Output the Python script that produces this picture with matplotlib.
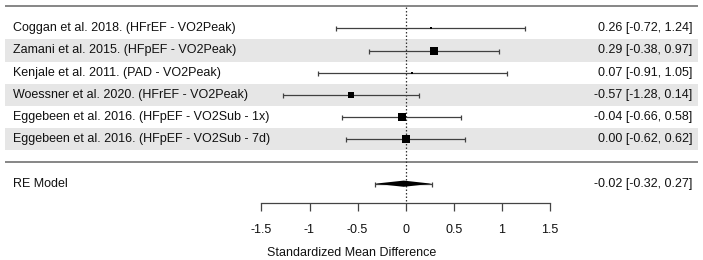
import matplotlib
matplotlib.use("Agg")
import matplotlib.pyplot as plt
from matplotlib.patches import Polygon

plt.rcParams['font.family'] = ['Liberation Sans', 'DejaVu Sans']

studies = [
    "Coggan et al. 2018. (HFrEF - VO2Peak)",
    "Zamani et al. 2015. (HFpEF - VO2Peak)",
    "Kenjale et al. 2011. (PAD - VO2Peak)",
    "Woessner et al. 2020. (HFrEF - VO2Peak)",
    "Eggebeen et al. 2016. (HFpEF - VO2Sub - 1x)",
    "Eggebeen et al. 2016. (HFpEF - VO2Sub - 7d)",
]
est = [0.26, 0.29, 0.07, -0.57, -0.04, 0.00]
lo = [-0.72, -0.38, -0.91, -1.28, -0.66, -0.62]
hi = [1.24, 0.97, 1.05, 0.14, 0.58, 0.62]
weights = [9.1, 19.2, 9.1, 17.3, 22.7, 22.7]

re_label = "RE Model"
re_est = -0.02
re_lo = -0.32
re_hi = 0.27

xticks = [-1.5, -1, -0.5, 0, 0.5, 1, 1.5]
xticklabels = ["-1.5", "-1", "-0.5", "0", "0.5", "1", "1.5"]
xlabel = "Standardized Mean Difference"

FS = 9
W, H = 703, 260
fig = plt.figure(figsize=(W / 100, H / 100), dpi=100)
axis_px = 203.3
ax = fig.add_axes([0, 1 - axis_px / H, 1, axis_px / H])

x0px, upx = 405.7, 96.2
row1px, rowh = 28.3, 22.2
def px2x(p):
    return (p - x0px) / upx
def px2r(p):
    return (p - row1px) / rowh + 1

ax.set_xlim(px2x(0), px2x(W))
ax.set_ylim(px2r(axis_px), px2r(0))

txt = "#111111"
left_x = px2x(5)
right_x = px2x(698)

n = len(studies)
rows = list(range(1, n + 1))

# shading
for i, r in enumerate(rows):
    if i % 2 == 1:
        ax.axhspan(r - 0.5, r + 0.5, xmin=5 / W, xmax=698 / W, color="#e6e6e6", lw=0, zorder=0)

# horizontal rules
ax.hlines([0, n + 1], left_x, right_x, color="#666666", lw=1.1, zorder=1)

# reference line
ax.vlines(0, 0.04, px2r(axis_px), colors="#333333", linestyles=(0, (1.2, 1.6)), lw=0.9, zorder=2)

# CIs
for r, e, l, h in zip(rows, est, lo, hi):
    ax.errorbar(e, r, xerr=[[e - l], [h - e]], fmt="none", ecolor="#404040",
                elinewidth=0.9, capsize=1.8, capthick=0.9, zorder=3)

# squares
wmin, wmax = min(weights), max(weights)
for r, e, w in zip(rows, est, weights):
    spx = 2.7 + (w - wmin) / (wmax - wmin) * 6.0
    spt = spx * 0.72
    ax.scatter([e], [r], marker="s", s=spt ** 2, color="black", lw=0, zorder=4)

# labels
for r, s, e, l, h in zip(rows, studies, est, lo, hi):
    ax.text(px2x(12.5), r, s, ha="left", va="center", fontsize=FS, color=txt)
    ax.text(px2x(692), r, f"{e:.2f} [{l:.2f}, {h:.2f}]", ha="right", va="center", fontsize=FS, color=txt)

# RE model
rr = n + 2
ax.errorbar(re_est, rr, xerr=[[re_est - re_lo], [re_hi - re_est]], fmt="none", ecolor="#404040",
            elinewidth=0.9, capsize=1.8, capthick=0.9, zorder=3)
dh = 0.14
ax.add_patch(Polygon([[re_lo, rr], [re_est, rr - dh], [re_hi, rr], [re_est, rr + dh]],
                     closed=True, color="black", lw=0, zorder=4))
ax.text(px2x(12.5), rr, re_label, ha="left", va="center", fontsize=FS, color=txt)
ax.text(px2x(692), rr, f"{re_est:.2f} [{re_lo:.2f}, {re_hi:.2f}]", ha="right", va="center", fontsize=FS, color=txt)

# axis
for s in ["top", "left", "right"]:
    ax.spines[s].set_visible(False)
ax.spines["bottom"].set_bounds(xticks[0], xticks[-1])
ax.spines["bottom"].set_color("#444444")
ax.spines["bottom"].set_linewidth(0.9)
ax.set_yticks([])
ax.set_xticks(xticks)
ax.set_xticklabels(xticklabels, fontsize=FS, color=txt)
ax.tick_params(axis="x", length=5.5, width=0.9, color="#444444", pad=9.5)
ax.set_xlabel(xlabel, fontsize=FS, color=txt, labelpad=7.5)
ax.patch.set_visible(False)

fig.savefig("out.png", dpi=100)
